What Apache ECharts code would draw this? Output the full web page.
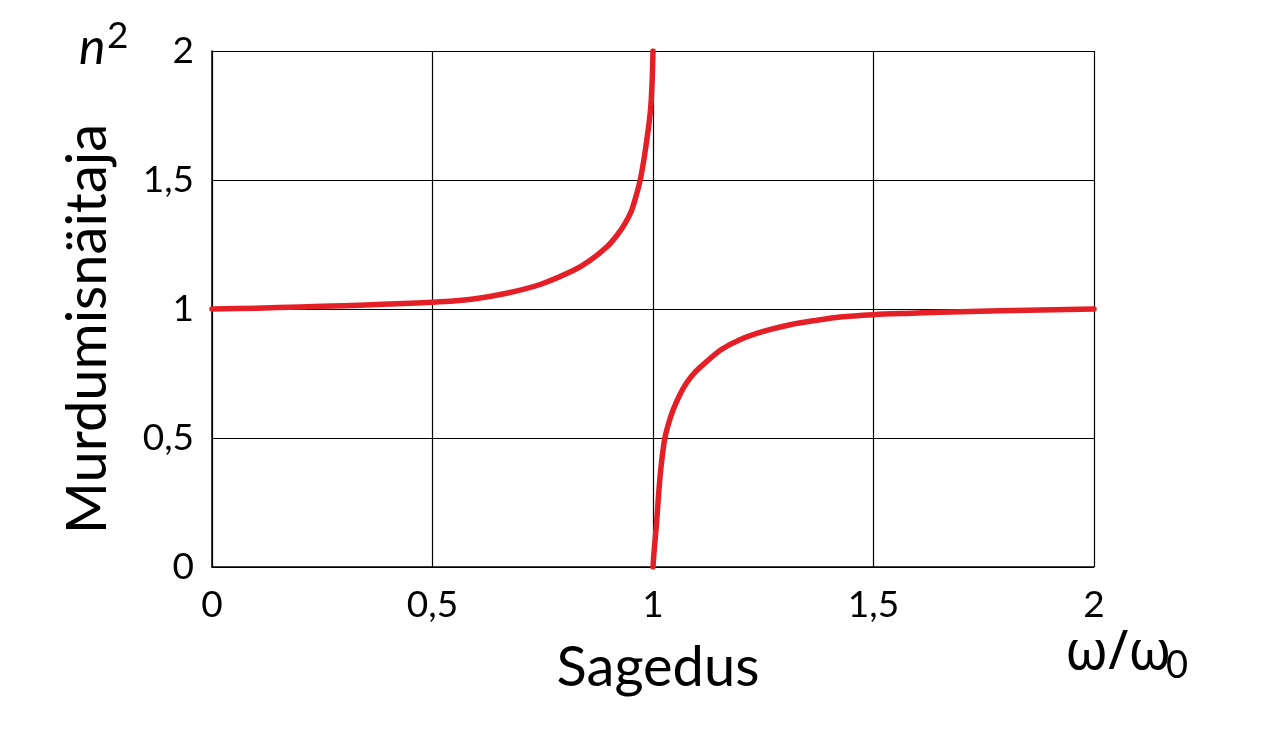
<!DOCTYPE html>
<html>
<head>
<meta charset="utf-8">
<script src="https://cdn.jsdelivr.net/npm/echarts@6/dist/echarts.min.js"></script>
<style>
  html, body { margin: 0; padding: 0; background: #ffffff; }
  #chart { width: 1280px; height: 747px; }
</style>
</head>
<body>
<div id="chart"></div>
<script>
// Tick values (shown with a decimal comma)
const xTicks = [0, 0.5, 1, 1.5, 2];
const yTicks = [0, 0.5, 1, 1.5, 2];

// Curve: below the resonance (ω/ω0 < 1)
const belowX = [0, 0.1, 0.2, 0.3, 0.4, 0.517, 0.593, 0.668, 0.744, 0.819, 0.857, 0.895, 0.918, 0.936, 0.951, 0.962, 0.971, 0.979, 0.986, 0.991, 0.995, 0.998, 1.0];
const belowY = [1.0, 1.003, 1.008, 1.013, 1.019, 1.028, 1.039, 1.061, 1.095, 1.149, 1.188, 1.24, 1.285, 1.33, 1.38, 1.44, 1.5, 1.575, 1.656, 1.72, 1.785, 1.88, 2.0];

// Curve above the resonance (ω/ω0 > 1)
const aboveX = [1.0, 1.002, 1.004, 1.008, 1.012, 1.016, 1.021, 1.027, 1.036, 1.046, 1.06, 1.076, 1.097, 1.122, 1.155, 1.197, 1.25, 1.311, 1.37, 1.424, 1.5, 1.575, 1.651, 1.787, 2.0];
const aboveY = [0.0, 0.05, 0.09, 0.169, 0.265, 0.35, 0.43, 0.5, 0.56, 0.61, 0.665, 0.713, 0.758, 0.797, 0.843, 0.881, 0.913, 0.939, 0.956, 0.969, 0.978, 0.983, 0.987, 0.993, 1.0];

// Texts
const yTitle = 'Murdumisnäitaja';
const xTitle = 'Sagedus';

const pair = (xs, ys) => xs.map((x, i) => [x, ys[i]]);
const fmt = v => String(v).replace('.', ',');

const chart = echarts.init(document.getElementById('chart'), null, { renderer: 'canvas' });
const FONT = 'Lato, "Noto Sans", sans-serif';
const RED = '#e41f26';

chart.setOption({
  backgroundColor: '#ffffff',
  animation: false,
  grid: { left: 212, right: 186, top: 51, bottom: 180, containLabel: false },
  xAxis: {
    type: 'value', min: xTicks[0], max: xTicks[xTicks.length - 1], interval: 0.5,
    axisLine: { show: true, lineStyle: { color: '#000', width: 1.5 } },
    axisTick: { show: false },
    axisLabel: { color: '#000', fontSize: 37, fontFamily: FONT, margin: 20, formatter: fmt, showMinLabel: true, showMaxLabel: true },
    splitLine: { show: true, lineStyle: { color: '#000', width: 1.2 } }
  },
  yAxis: {
    type: 'value', min: yTicks[0], max: yTicks[yTicks.length - 1], interval: 0.5,
    axisLine: { show: true, lineStyle: { color: '#000', width: 1.5 } },
    axisTick: { show: false },
    axisLabel: { color: '#000', fontSize: 37, fontFamily: FONT, margin: 18, formatter: fmt, showMinLabel: true, showMaxLabel: true },
    splitLine: { show: true, lineStyle: { color: '#000', width: 1.2 } }
  },
  series: [
    {
      type: 'line', data: pair(belowX, belowY), showSymbol: false, smooth: 0.3,
      lineStyle: { color: RED, width: 5.5, cap: 'round', join: 'round' }, z: 5
    },
    {
      type: 'line', data: pair(aboveX, aboveY), showSymbol: false, smooth: 0.3,
      lineStyle: { color: RED, width: 5.5, cap: 'round', join: 'round' }, z: 5
    }
  ],
  graphic: [
    {
      type: 'text', x: 88, y: 329, rotation: Math.PI / 2,
      style: { text: yTitle, fill: '#000', font: '56px ' + FONT, align: 'center', verticalAlign: 'middle' }
    },
    {
      type: 'text', x: 658, y: 668,
      style: { text: xTitle, fill: '#000', font: '56px ' + FONT, align: 'center', verticalAlign: 'middle' }
    },
    {
      type: 'text', x: 79, y: 48,
      style: { text: 'n', fill: '#000', font: 'italic 50px ' + FONT, align: 'left', verticalAlign: 'middle' }
    },
    {
      type: 'text', x: 107, y: 36,
      style: { text: '2', fill: '#000', font: '37px ' + FONT, align: 'left', verticalAlign: 'middle' }
    },
    {
      type: 'text', x: 1065, y: 654,
      style: { text: 'ω/ω', fill: '#000', font: '54px "Noto Sans", sans-serif', align: 'left', verticalAlign: 'middle' }
    },
    {
      type: 'text', x: 1166, y: 666,
      style: { text: '0', fill: '#000', font: '38px ' + FONT, align: 'left', verticalAlign: 'middle' }
    }
  ]
});
</script>
</body>
</html>
